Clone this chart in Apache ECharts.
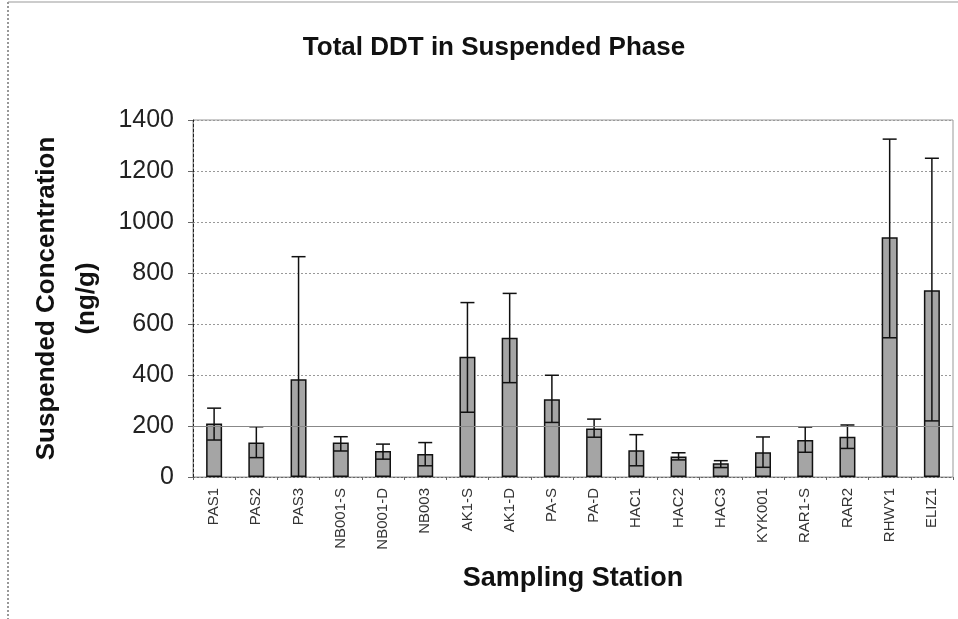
<!DOCTYPE html>
<html>
<head>
<meta charset="utf-8">
<script src="https://cdn.jsdelivr.net/npm/echarts@6/dist/echarts.min.js"></script>
<style>
html,body{margin:0;padding:0;background:#fff;}
#c{width:958px;height:619px;}
</style>
</head>
<body>
<div id="c"></div>
<script>
const stations = ['PAS1','PAS2','PAS3','NB001-S','NB001-D','NB003','AK1-S','AK1-D','PA-S','PA-D','HAC1','HAC2','HAC3','KYK001','RAR1-S','RAR2','RHWY1','ELIZ1'];
const concentration = [210,135,383,135,102,90,472,546,305,190,105,80,54,97,145,158,940,732];
const errLow  = [145,76,0,102,70,44,254,370,214,156,44,67,37,38,97,112,546,220];
const errHigh = [270,197,864,158,129,135,684,720,399,227,166,95,64,157,196,204,1325,1250];
const yTicks = [0,200,400,600,800,1000,1200,1400];

const errData = stations.map((s,i)=>[i, errLow[i], errHigh[i]]);

const chart = echarts.init(document.getElementById('c'));
chart.setOption({
  animation:false,
  backgroundColor:'#fff',
  title:{
    text:'Total DDT in Suspended Phase',
    left:489, top:30, textAlign:'center',
    textStyle:{fontFamily:'Liberation Sans',fontWeight:'bold',fontSize:26,color:'#111'}
  },
  grid:{left:193,right:5,top:120,bottom:142,show:true,borderColor:'#999',borderWidth:1},
  xAxis:{
    type:'category',
    data:stations,
    name:'Sampling Station',
    nameLocation:'middle',
    nameGap:88,
    nameTextStyle:{fontFamily:'Liberation Sans',fontWeight:'bold',fontSize:27,color:'#111'},
    axisLine:{lineStyle:{color:'#666',type:[2,2]}},
    axisTick:{show:true,length:3,lineStyle:{color:'#666'}},
    axisLabel:{rotate:90,fontFamily:'Liberation Sans',fontSize:15,color:'#333',margin:11,interval:0},
    splitLine:{show:false}
  },
  yAxis:{
    type:'value',
    min:0,max:1400,interval:200,
    name:'Suspended Concentration\n(ng/g)',
    nameLocation:'middle',
    nameGap:86,
    nameRotate:90,
    nameTextStyle:{fontFamily:'Liberation Sans',fontWeight:'bold',fontSize:26,color:'#111',lineHeight:40},
    axisLine:{show:true,lineStyle:{color:'#222',type:[3,2]}},
    axisTick:{show:true,length:5,lineStyle:{color:'#666'}},
    axisLabel:{fontFamily:'Liberation Sans',fontSize:25,color:'#222',margin:19,
      formatter:v=>yTicks.includes(v)?String(v):''},
    splitLine:{lineStyle:{color:'#999',type:[2,2],width:1}}
  },
  series:[
    {
      type:'bar',
      data:concentration,
      barWidth:16,
      itemStyle:{color:'#a5a5a5',borderColor:'#111',borderWidth:1.5},
      markLine:{
        silent:true,symbol:'none',label:{show:false},
        lineStyle:{color:'#888',type:'solid',width:1.2},
        data:[{yAxis:200}]
      },
      z:2
    },
    {
      type:'custom',
      data:errData,
      z:3,
      renderItem:function(params,api){
        const x = api.value(0);
        const lo = api.coord([x, api.value(1)]);
        const hi = api.coord([x, api.value(2)]);
        const half = 7;
        const style = {stroke:'#111',lineWidth:1.5};
        return {type:'group',children:[
          {type:'line',shape:{x1:hi[0],y1:hi[1],x2:lo[0],y2:lo[1]},style:style},
          {type:'line',shape:{x1:hi[0]-half,y1:hi[1],x2:hi[0]+half,y2:hi[1]},style:style},
          {type:'line',shape:{x1:lo[0]-half,y1:lo[1],x2:lo[0]+half,y2:lo[1]},style:style}
        ]};
      },
      clip:true
    }
  ],
  graphic:[
    {type:'line',shape:{x1:8,y1:2,x2:8,y2:619},style:{stroke:'#333',lineWidth:1,lineDash:[2,2]}},
    {type:'line',shape:{x1:8,y1:2,x2:958,y2:2},style:{stroke:'#999',lineWidth:1}}
  ]
});
</script>
</body>
</html>
